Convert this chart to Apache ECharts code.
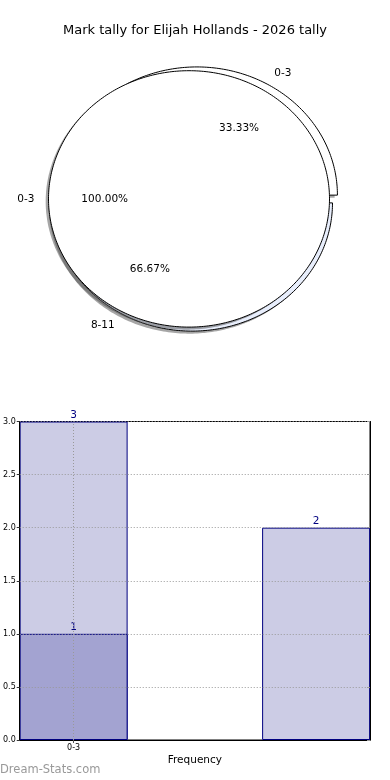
<!DOCTYPE html>
<html>
<head>
<meta charset="utf-8">
<script src="https://cdn.jsdelivr.net/npm/echarts@6/dist/echarts.min.js"></script>
<style>
html,body{margin:0;padding:0;background:#fff;}
#chart{width:390px;height:780px;}
</style>
</head>
<body>
<div id="chart"></div>
<script>
// ---- data ----
const chartTitle = 'Mark tally for Elijah Hollands - 2026 tally';
const fullPieLabels = ['0-3'];
const fullPieValues = [1];
const splitPieLabels = ['0-3', '8-11'];
const splitPieValues = [1, 2];
const barLabels = ['0-3', '8-11'];
const barPositions = [0.4, 2.2];
const countsLight = [3, 2];
const countsDark = [1, null];
const xTickLabels = ['0-3'];
const xTickPositions = [0.4];
const yTickValues = [0, 0.5, 1, 1.5, 2, 2.5, 3];
const xAxisName = 'Frequency';
const watermark = 'Dream-Stats.com';

// ---- styling / layout ----
const FONT = 'DejaVu Sans';
const pieGrid = {left: 48.5, top: 70.7, width: 281, height: 256.4};
const barGrid = {left: 19, top: 421.5, width: 351, height: 318.5};
const xMin = 0, xMax = 2.6, barFrac = 0.8;
const SHADOW_OFF = [-0.02, -0.02];

function sum(a){return a.reduce((s,v)=>s+v,0);}

function ellipsePoints(api, cx, cy, a0, a1, withCenter){
  const pts = [];
  if (withCenter) pts.push(api.coord([cx, cy]));
  const n = Math.max(6, Math.ceil((a1 - a0) / (Math.PI / 180)));
  for (let i = 0; i <= n; i++) {
    const t = a0 + (a1 - a0) * i / n;
    pts.push(api.coord([cx + Math.cos(t), cy + Math.sin(t)]));
  }
  return pts;
}

function pieParts(labels, values, cfg){
  const total = sum(values);
  const slices = [];
  let acc = 0;
  values.forEach((v, i) => {
    const a0 = acc / total * Math.PI * 2;
    acc += v;
    const a1 = acc / total * Math.PI * 2;
    const mid = (a0 + a1) / 2;
    const e = (cfg.explode && cfg.explode[i]) || 0;
    slices.push({
      a0, a1, mid,
      cx: cfg.cx + e * Math.cos(mid),
      cy: cfg.cy + e * Math.sin(mid),
      full: (a1 - a0) >= Math.PI * 2 - 1e-9,
      label: labels[i],
      pct: (v / total * 100).toFixed(2) + '%',
      fill: cfg.fills[i % cfg.fills.length]
    });
  });
  return slices;
}

function pieSeries(labels, values, cfg, z){
  const slices = pieParts(labels, values, cfg);
  const shadow = {
    type: 'custom', xAxisIndex: 0, yAxisIndex: 0, z: z, silent: true, clip: false,
    data: values.map((v, i) => [0, 0, i]),
    renderItem: function(params, api){
      const s = slices[params.dataIndex];
      return {type: 'polygon', shape: {points: ellipsePoints(api, s.cx + SHADOW_OFF[0], s.cy + SHADOW_OFF[1], s.a0, s.a1, !s.full)},
        style: {fill: 'rgba(77,77,77,0.5)', stroke: null}};
    }
  };
  const main = {
    type: 'custom', xAxisIndex: 0, yAxisIndex: 0, z: z + 1, silent: true, clip: false,
    data: values.map((v, i) => [0, 0, i]),
    renderItem: function(params, api){
      const s = slices[params.dataIndex];
      return {type: 'polygon', shape: {points: ellipsePoints(api, s.cx, s.cy, s.a0, s.a1, !s.full)},
        style: {fill: s.fill, stroke: '#000', lineWidth: 1}};
    }
  };
  const labelsSeries = {
    type: 'custom', xAxisIndex: 0, yAxisIndex: 0, z: 20, silent: true, clip: false,
    data: values.map((v, i) => [0, 0, i]),
    renderItem: function(params, api){
      const s = slices[params.dataIndex];
      const c = Math.cos(s.mid), sn = Math.sin(s.mid);
      const pOut = api.coord([s.cx + 1.1 * c, s.cy + 1.1 * sn]);
      const pIn = api.coord([s.cx + 0.6 * c, s.cy + 0.6 * sn]);
      return {type: 'group', children: [
        {type: 'text', style: {text: s.label, x: pOut[0], y: pOut[1], align: c > 1e-9 ? 'left' : (c < -1e-9 ? 'right' : 'center'), verticalAlign: 'middle', fontFamily: FONT, fontSize: 10.5, fill: '#000'}},
        {type: 'text', style: {text: s.pct, x: pIn[0], y: pIn[1], align: 'center', verticalAlign: 'middle', fontFamily: FONT, fontSize: 10.5, fill: '#000'}}
      ]};
    }
  };
  return [shadow, main, labelsSeries];
}

const splitCfg = {cx: 0.0214, cy: -0.0312, explode: [0.07, 0], fills: ['#ffffff', '#e8eefc']};
const fullCfg = {cx: 0, cy: 0, explode: [0], fills: ['#ffffff']};

const barWidthPx = barGrid.width * barFrac / (xMax - xMin);

const chart = echarts.init(document.getElementById('chart'), null, {renderer: 'canvas'});
const option = {
  animation: false,
  backgroundColor: '#fff',
  title: {text: chartTitle, left: 'center', top: 24, padding: 0,
    textStyle: {fontFamily: FONT, fontSize: 13, fontWeight: 'normal', color: '#000'}},
  graphic: [{type: 'text', left: 0, top: 764, style: {text: watermark, fontFamily: FONT, fontSize: 11.5, fill: '#999999'}}],
  grid: [
    Object.assign({containLabel: false}, pieGrid),
    Object.assign({containLabel: false, show: true, borderColor: '#000', borderWidth: 1, backgroundColor: 'transparent'}, barGrid)
  ],
  xAxis: [
    {gridIndex: 0, type: 'value', min: -1, max: 1, show: false},
    {gridIndex: 1, type: 'value', min: xMin, max: xMax, interval: 0.2, z: 5,
      axisLine: {show: true, lineStyle: {color: '#000', width: 1}},
      splitLine: {show: false},
      axisTick: {show: true, customValues: xTickPositions, length: 3, lineStyle: {color: '#555'}},
      axisLabel: {customValues: xTickPositions, fontFamily: FONT, fontSize: 8, color: '#000', margin: 4,
        formatter: function(v){ const i = xTickPositions.findIndex(p => Math.abs(p - v) < 1e-6); return i >= 0 ? xTickLabels[i] : ''; }},
      name: xAxisName, nameLocation: 'middle', nameGap: 15,
      nameTextStyle: {fontFamily: FONT, fontSize: 10.5, color: '#000'}}
  ],
  yAxis: [
    {gridIndex: 0, type: 'value', min: -1, max: 1, show: false},
    {gridIndex: 1, type: 'value', min: yTickValues[0], max: yTickValues[yTickValues.length - 1], interval: yTickValues[1] - yTickValues[0], z: 5,
      axisLine: {show: true, lineStyle: {color: '#000', width: 1}},
      axisTick: {show: true, length: 3, lineStyle: {color: '#333'}},
      axisLabel: {fontFamily: FONT, fontSize: 8, color: '#000', margin: 4, formatter: v => v.toFixed(1)},
      splitLine: {show: true, lineStyle: {type: [1, 2], color: '#999', width: 1}}},
    {gridIndex: 1, type: 'value', position: 'right', min: yTickValues[0], max: yTickValues[yTickValues.length - 1], interval: yTickValues[1] - yTickValues[0], z: 5,
      axisLine: {show: true, lineStyle: {color: '#000', width: 1}},
      axisTick: {show: true, inside: true, length: 3, lineStyle: {color: '#999'}},
      axisLabel: {show: false}, splitLine: {show: false}}
  ],
  series: [
    ...pieSeries(splitPieLabels, splitPieValues, splitCfg, 2),
    ...pieSeries(fullPieLabels, fullPieValues, fullCfg, 6),
    {type: 'bar', name: 'light', xAxisIndex: 1, yAxisIndex: 1, z: 2,
      data: barPositions.map((x, i) => [x, countsLight[i]]),
      barWidth: barWidthPx, barGap: '-100%',
      itemStyle: {color: '#cccce5', borderColor: '#000080', borderWidth: 1},
      label: {show: true, position: 'top', distance: 1, color: '#000080', fontFamily: FONT, fontSize: 10.5},
      markLine: {silent: true, symbol: 'none', label: {show: false}, z: 6,
        lineStyle: {type: [1, 2], color: '#999', width: 1},
        data: xTickPositions.map(x => ({xAxis: x}))}
    },
    {type: 'bar', name: 'dark', xAxisIndex: 1, yAxisIndex: 1, z: 3,
      data: barPositions.map((x, i) => countsDark[i] == null ? null : [x, countsDark[i]]).filter(d => d),
      barWidth: barWidthPx, barGap: '-100%',
      itemStyle: {color: '#a3a3d1', borderColor: '#000080', borderWidth: 1},
      label: {show: true, position: 'top', distance: 1, color: '#000080', fontFamily: FONT, fontSize: 10.5}
    }
  ]
};
chart.setOption(option);
</script>
</body>
</html>
